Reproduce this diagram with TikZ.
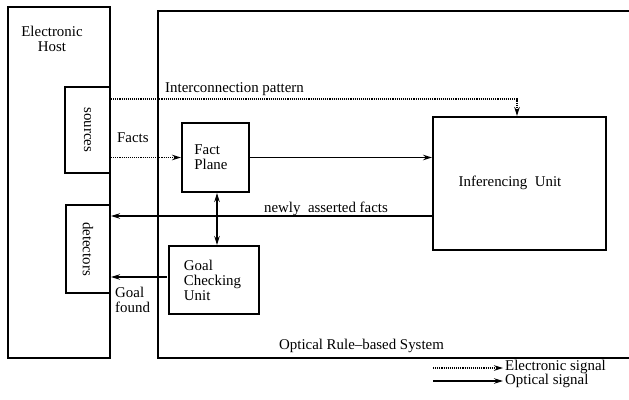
\documentclass[tikz,border=0pt]{standalone}
\usepackage{fontspec}
\setmainfont{Liberation Serif}
\usetikzlibrary{arrows.meta}
\begin{document}
\begin{tikzpicture}[x=1pt,y=-1pt,
  font=\fontsize{14.9}{15}\selectfont,
  box/.style={draw, line width=2pt, inner sep=0pt},
  tip/.style={Stealth[length=9pt,width=5.5pt]},
  conn/.style={line width=1.3pt, -{Stealth[length=9pt,width=5.5pt]}},
  elec/.style={conn, line width=1.9pt, dash pattern=on 1.1pt off 1pt},
  both/.style={line width=1.3pt, {Stealth[length=9pt,width=5.5pt]}-{Stealth[length=9pt,width=5.5pt]}},
  lbl/.style={inner sep=0pt}]
\useasboundingbox (0,0) rectangle (629,399);

% electronic host with its sources and detectors
\node[box, minimum width=102pt, minimum height=351pt] (host) at (59,182.5) {};
\node[lbl, align=center] (hostlbl) at (52,39) {Electronic\\Host};
\node[box, minimum width=45pt, minimum height=86pt] (sources) at (87.5,130) {};
\node[lbl, rotate=-90] (srclbl) at (sources.center) {sources};
\node[box, minimum width=44pt, minimum height=88pt] (detectors) at (88,249) {};
\node[lbl, rotate=-90] (detlbl) at (detectors.center) {detectors};

% optical rule-based system (open on the right)
\coordinate (otr) at (629,11);
\coordinate (otl) at (158,11);
\coordinate (obl) at (158,358);
\coordinate (obr) at (629,358);
\draw[line width=2pt] (otr) -- (otl) -- (obl) -- (obr);
\node[lbl] (optlbl) at (361.5,346) {Optical Rule–based System};

% units
\node[box, minimum width=67pt, minimum height=69pt] (fact) at (215.5,157.5) {};
\node[lbl, align=left] (factlbl) at (211,157) {Fact\\Plane};
\node[box, minimum width=90pt, minimum height=68pt] (goal) at (214,280) {};
\node[lbl, align=left] (goallbl) at (212.5,280) {Goal\\Checking\\Unit};
\node[box, minimum width=173pt, minimum height=133pt] (infer) at (519.5,183.5) {};
\node[lbl] (inflbl) at (510,183) {Inferencing\ \ Unit};

% electronic signals
\coordinate (ic) at (517,99);
\draw[elec] (sources.east |- ic) -- (ic) -- (ic |- infer.north);
\node[lbl, anchor=west] (iclbl) at (165,89) {Interconnection pattern};
\draw[elec] (sources.east |- fact.west) -- (fact.west);
\node[lbl, anchor=west] (factslbl) at (117,138) {Facts};

% optical signals
\draw[conn] (fact.east) -- (fact.east -| infer.west);
\coordinate (na) at (300,216);
\draw[conn] (infer.west |- na) -- (detectors.east |- na);
\node[lbl] (nalbl) at (326,209) {newly\ \ asserted facts};
\draw[both] (fact.south -| 217,0) -- (goal.north -| 217,0);
\coordinate (cross) at (217,216);
\fill (cross) circle (1.6pt);
\coordinate (gl) at (167,277);
\draw[conn] (gl) -- (detectors.east |- gl);
\node[lbl, align=left, anchor=west] (gflbl) at (115,299.5) {Goal\\found};

% legend
\coordinate (le1) at (433,368);
\coordinate (le2) at (503,368);
\coordinate (lo1) at (433,381);
\coordinate (lo2) at (503,381);
\draw[elec] (le1) -- (le2);
\node[lbl, anchor=west] (elbl) at (505,367) {Electronic signal};
\draw[conn] (lo1) -- (lo2);
\node[lbl, anchor=west] (olbl) at (505,381) {Optical signal};
\end{tikzpicture}
\end{document}
